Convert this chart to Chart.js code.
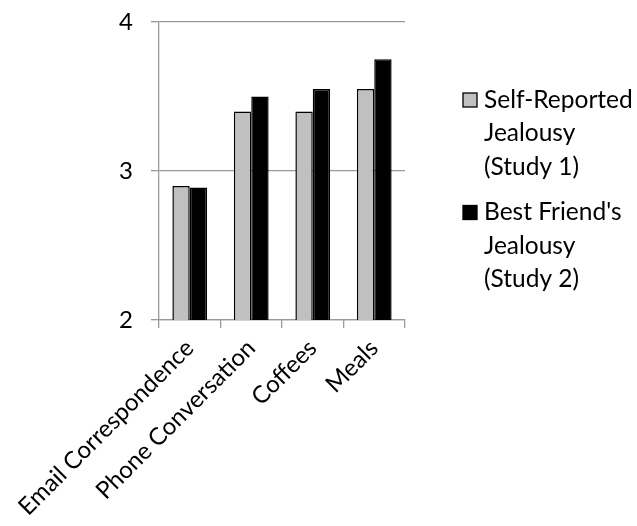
<!DOCTYPE html>
<html>
<head>
<meta charset="utf-8">
<script src="https://cdn.jsdelivr.net/npm/chart.js@4/dist/chart.umd.min.js"></script>
<style>
html, body { margin: 0; padding: 0; background: #fff; }
#wrap { width: 637px; height: 526px; position: relative; }
</style>
</head>
<body>
<div id="wrap"><canvas id="chart"></canvas></div>
<script>
var categories = ['Email Correspondence', 'Phone Conversation', 'Coffees', 'Meals'];
var selfReported = [2.90, 3.40, 3.40, 3.55];
var bestFriend = [2.89, 3.50, 3.55, 3.75];
var seriesLabels = [['Self-Reported', 'Jealousy', '(Study 1)'], ["Best Friend's", 'Jealousy', '(Study 2)']];
var yMin = 2, yMax = 4, yStep = 1;

var FONT = 'Lato, "Open Sans", sans-serif';

// legend drawn by hand so the labels can wrap like the original
var sideLegend = {
    id: 'sideLegend',
    afterDraw: function (chart) {
        var ctx = chart.ctx;
        var area = chart.chartArea;
        var x = area.right + 58;
        var y = area.top + 78;
        ctx.save();
        ctx.font = '24.5px ' + FONT;
        ctx.textBaseline = 'middle';
        chart.data.datasets.forEach(function (ds) {
            var lines = ds.legendLines;
            ctx.fillStyle = ds.backgroundColor;
            ctx.fillRect(x, y - 7, 14, 14);
            ctx.strokeStyle = '#000';
            ctx.lineWidth = 1.3;
            ctx.strokeRect(x, y - 7, 14, 14);
            ctx.fillStyle = '#000';
            for (var j = 0; j < lines.length; j++) {
                ctx.fillText(lines[j], x + 21, y + j * 33.5);
            }
            y += lines.length * 33.5 + 12;
        });
        ctx.restore();
    }
};

new Chart(document.getElementById('chart'), {
    type: 'bar',
    data: {
        labels: categories,
        datasets: [
            {
                label: seriesLabels[0].join(' '),
                legendLines: seriesLabels[0],
                data: selfReported,
                backgroundColor: '#c0c0c0',
                borderColor: '#000',
                borderWidth: 1.5
            },
            {
                label: seriesLabels[1].join(' '),
                legendLines: seriesLabels[1],
                data: bestFriend,
                backgroundColor: '#000',
                borderColor: '#000',
                borderWidth: 1.5
            }
        ]
    },
    options: {
        responsive: true,
        maintainAspectRatio: false,
        animation: false,
        layout: { padding: { top: 22, right: 232, left: 0, bottom: 0 } },
        datasets: { bar: { categoryPercentage: 0.565, barPercentage: 1 } },
        plugins: {
            legend: { display: false },
            tooltip: { enabled: false }
        },
        scales: {
            x: {
                grid: { drawOnChartArea: false, drawTicks: true, tickLength: 8, color: '#999', lineWidth: 1.3 },
                border: { color: '#999', width: 1.3 },
                ticks: {
                    minRotation: 45, maxRotation: 45, padding: 6,
                    color: '#000', font: { family: FONT, size: 24 }
                },
                afterFit: function (scale) {
                    scale.height = 206;
                    scale.paddingLeft = 0;
                    scale.paddingRight = 0;
                }
            },
            y: {
                min: yMin, max: yMax,
                grid: { color: '#999', lineWidth: 1.3, tickLength: 8 },
                border: { color: '#999', width: 1.3 },
                ticks: {
                    stepSize: yStep, padding: 18,
                    color: '#000', font: { family: FONT, size: 24 }
                },
                afterFit: function (scale) {
                    scale.width = 159;
                    scale.paddingTop = 0;
                    scale.paddingBottom = 0;
                }
            }
        }
    },
    plugins: [sideLegend]
});
</script>
</body>
</html>
